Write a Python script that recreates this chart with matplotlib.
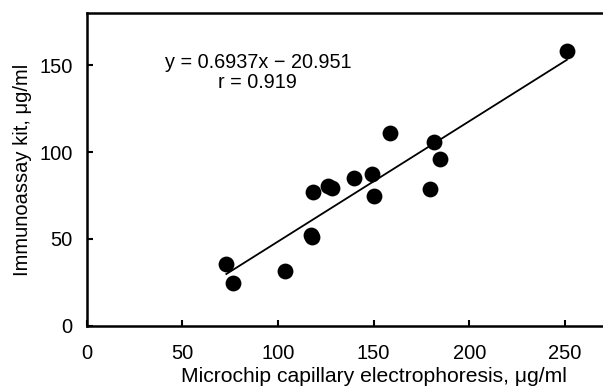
import numpy as np
import matplotlib
matplotlib.use('Agg')
import matplotlib.pyplot as plt

plt.rcParams['font.family'] = ['Liberation Sans', 'DejaVu Sans']

# ── Datos ──────────────────────────────────────────────
mce = [73.0, 76.6, 103.8, 117.0, 118.0, 118.3, 126.0, 128.4, 139.9,
       149.2, 150.2, 158.3, 181.5, 184.9, 179.4, 251.0]
kit = [35.4, 24.7, 31.7, 52.2, 51.2, 77.1, 80.5, 79.3, 85.1,
       87.6, 74.6, 110.9, 105.7, 96.0, 78.8, 158.3]

slope = 0.6937
intercept = -20.951
r_value = 0.919

# ── Figura ─────────────────────────────────────────────
fig = plt.figure(figsize=(6.03, 3.91), dpi=100)
ax = fig.add_axes([86.7 / 603, 65.5 / 391, 573.9 / 603, 312.2 / 391])

ax.scatter(mce, kit, s=130, color='black', zorder=3, linewidths=0)

x_fit = np.array([min(mce), max(mce)])
ax.plot(x_fit, slope * x_fit + intercept, color='black', lw=1.3, zorder=2)

ax.text(89.5, 146, f'y = {slope}x \u2212 {abs(intercept)}\nr = {r_value}',
        ha='center', va='center', fontsize=14.3, linespacing=1.05)

ax.set_xlim(0, 300)
ax.set_ylim(0, 180)
ax.set_xticks([0, 50, 100, 150, 200, 250])
ax.set_yticks([0, 50, 100, 150])

for s in ax.spines.values():
    s.set_linewidth(1.8)
ax.tick_params(direction='in', length=4.5, width=1.5, labelsize=14.5)
ax.tick_params(axis='x', pad=13)
ax.tick_params(axis='y', pad=10)

ax.set_xlabel('Microchip capillary electrophoresis, \u03bcg/ml', fontsize=15.2, labelpad=3)
ax.set_ylabel('Immunoassay kit, \u03bcg/ml', fontsize=14.5, labelpad=5)

fig.savefig('out.png', dpi=100)
